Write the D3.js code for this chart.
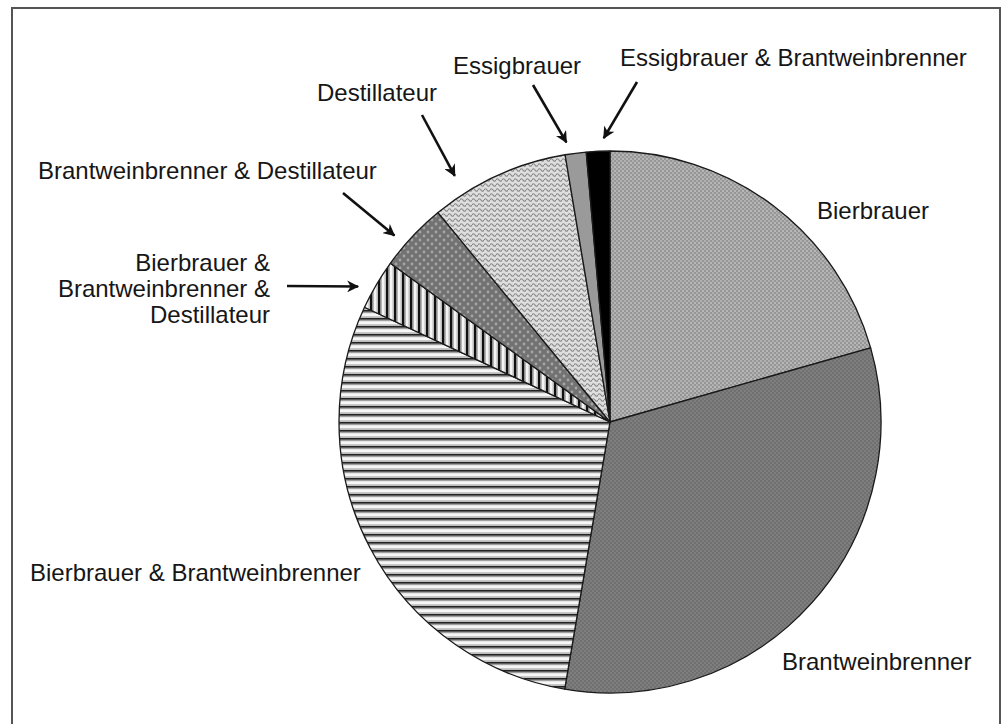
<!DOCTYPE html>
<html><head><meta charset="utf-8">
<script src="https://cdn.jsdelivr.net/npm/d3@7/dist/d3.min.js"></script>
<style>html,body{margin:0;padding:0;background:#fff;}svg{display:block;}</style>
</head><body>
<svg id="chart" width="1007" height="724"></svg>
<script>
const categories = ["Bierbrauer","Brantweinbrenner","Bierbrauer & Brantweinbrenner","Bierbrauer & Brantweinbrenner & Destillateur","Brantweinbrenner & Destillateur","Destillateur","Essigbrauer","Essigbrauer & Brantweinbrenner"];
const values = [20.6, 32.1, 29.3, 3.0, 4.1, 8.3, 1.25, 1.4];
const fills = ["url(#pBier)","url(#pBrant)","url(#pHoriz)","url(#pVert)","url(#pDots)","url(#pWave)","#9a9a9a","#000"];

const svg = d3.select("#chart");
const cx = 610, cy = 422, R = 271;

const defs = svg.append("defs");
let p = defs.append("pattern").attr("id","pBier").attr("patternUnits","userSpaceOnUse").attr("width",4).attr("height",4);
p.append("rect").attr("width",4).attr("height",4).attr("fill","#969696");
p.append("circle").attr("cx",1).attr("cy",1).attr("r",0.9).attr("fill","#c8c8c8");
p.append("circle").attr("cx",3).attr("cy",3).attr("r",0.9).attr("fill","#bcbcbc");
p = defs.append("pattern").attr("id","pBrant").attr("patternUnits","userSpaceOnUse").attr("width",4).attr("height",4);
p.append("rect").attr("width",4).attr("height",4).attr("fill","#7e7e7e");
p.append("rect").attr("x",0).attr("y",0).attr("width",2).attr("height",2).attr("fill","#707070");
p.append("rect").attr("x",2).attr("y",2).attr("width",2).attr("height",2).attr("fill","#707070");
p = defs.append("pattern").attr("id","pHoriz").attr("patternUnits","userSpaceOnUse").attr("width",8).attr("height",8);
p.append("rect").attr("width",8).attr("height",8).attr("fill","#f6f6f6");
p.append("rect").attr("y",0).attr("width",8).attr("height",1.8).attr("fill","#222");
p.append("rect").attr("y",1.8).attr("width",8).attr("height",1.4).attr("fill","#a0a0a0");
p.append("rect").attr("y",6.2).attr("width",8).attr("height",1.8).attr("fill","#bcbcbc");
p = defs.append("pattern").attr("id","pVert").attr("patternUnits","userSpaceOnUse").attr("width",8).attr("height",8);
p.append("rect").attr("width",8).attr("height",8).attr("fill","#f4f4f4");
p.append("rect").attr("x",0).attr("width",2.5).attr("height",8).attr("fill","#111");
p.append("rect").attr("x",2.5).attr("width",1.2).attr("height",8).attr("fill","#999");
p.append("rect").attr("x",6.5).attr("width",1.5).attr("height",8).attr("fill","#bbb");
p = defs.append("pattern").attr("id","pDots").attr("patternUnits","userSpaceOnUse").attr("width",8).attr("height",8);
p.append("rect").attr("width",8).attr("height",8).attr("fill","#727272");
p.append("circle").attr("cx",2).attr("cy",2).attr("r",1.4).attr("fill","#a6a6a6");
p.append("circle").attr("cx",6).attr("cy",6).attr("r",1.4).attr("fill","#a6a6a6");
p = defs.append("pattern").attr("id","pWave").attr("patternUnits","userSpaceOnUse").attr("width",6).attr("height",5);
p.append("rect").attr("width",6).attr("height",5).attr("fill","#dedede");
p.append("path").attr("d","M0,3 Q1.5,0.5 3,3 T6,3").attr("fill","none").attr("stroke","#858585").attr("stroke-width",1.1);
defs.append("marker").attr("id","arrow").attr("viewBox","0 0 12 12").attr("refX",11).attr("refY",6)
  .attr("markerWidth",12).attr("markerHeight",12).attr("markerUnits","userSpaceOnUse").attr("orient","auto")
  .append("path").attr("d","M0,0 L12,6 L0,12 L3.5,6 Z").attr("fill","#111");

svg.append("rect").attr("x",12).attr("y",8).attr("width",988).attr("height",730)
  .attr("fill","none").attr("stroke","#555").attr("stroke-width",2);

const pie = d3.pie().sort(null).value(d => d);
const arcs = pie(values);
const arc = d3.arc().innerRadius(0).outerRadius(R);

const g = svg.append("g").attr("transform",`translate(${cx},${cy})`);
g.selectAll("path.slice").data(arcs).enter().append("path")
  .attr("class","slice")
  .attr("d",arc)
  .attr("fill",(d,i)=>fills[i])
  .attr("stroke","#1a1a1a").attr("stroke-width",1.3).attr("stroke-linejoin","round");

const font = "'Liberation Sans', Arial, Helvetica, sans-serif";
const labels = [
  {i:0, lines:["Bierbrauer"], x:817, y:219, anchor:"start"},
  {i:1, lines:["Brantweinbrenner"], x:782, y:670, anchor:"start"},
  {i:2, lines:["Bierbrauer & Brantweinbrenner"], x:30, y:581, anchor:"start"},
  {i:3, lines:["Bierbrauer &","Brantweinbrenner &","Destillateur"], x:270, y:271, anchor:"end", arrow:{x1:287,y1:286,t:0.3,dr:15}},
  {i:4, lines:["Brantweinbrenner & Destillateur"], x:38, y:179, anchor:"start", arrow:{x1:343,y1:193,t:0.34,dr:14}},
  {i:5, lines:["Destillateur"], x:317, y:101, anchor:"start", arrow:{x1:422,y1:115,t:0.24,dr:20}},
  {i:6, lines:["Essigbrauer"], x:453, y:74, anchor:"start", arrow:{x1:533,y1:85,t:0.15,dr:12}},
  {i:7, lines:["Essigbrauer & Brantweinbrenner"], x:620, y:66, anchor:"start", arrow:{x1:637,y1:82,t:0.75,dr:13}}
];
labels.forEach(l => {
  const t = svg.append("text").attr("x",l.x).attr("y",l.y).attr("text-anchor",l.anchor)
    .attr("font-family",font).attr("font-size",24).attr("fill","#161616");
  l.lines.forEach((s,k) => t.append("tspan").attr("x",l.x).attr("dy",k===0?0:26).text(s));
  if (l.arrow) {
    const a = arcs[l.i];
    const ang = a.startAngle + l.arrow.t*(a.endAngle - a.startAngle);
    const rr = R + l.arrow.dr;
    const x2 = cx + rr*Math.sin(ang), y2 = cy - rr*Math.cos(ang);
    svg.append("line").attr("x1",l.arrow.x1).attr("y1",l.arrow.y1).attr("x2",x2).attr("y2",y2)
      .attr("stroke","#111").attr("stroke-width",2.6).attr("marker-end","url(#arrow)");
  }
});
</script>
</body></html>
